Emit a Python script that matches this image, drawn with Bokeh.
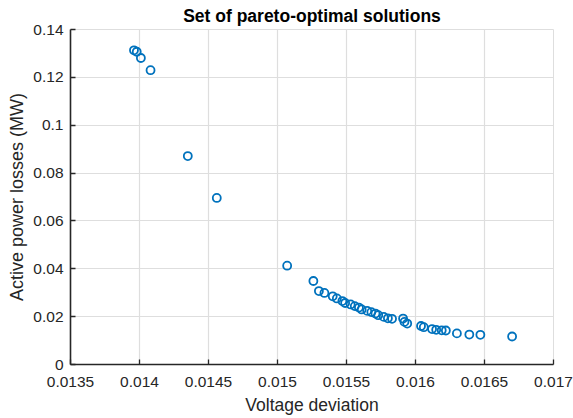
from bokeh.plotting import figure
from bokeh.models import FixedTicker, Range1d
from bokeh.embed import file_html
from bokeh.resources import INLINE

# Data
voltage_deviation = [
    0.01396, 0.01398, 0.01401, 0.01408, 0.01435, 0.01456, 0.01507,
    0.01526, 0.01530, 0.01534, 0.01540, 0.01543, 0.01547, 0.01549,
    0.01553, 0.01556, 0.01559, 0.01561, 0.01565, 0.01568, 0.01571,
    0.01573, 0.01577, 0.01580, 0.01583, 0.01591, 0.01592, 0.01594,
    0.01604, 0.01606, 0.01612, 0.01615, 0.01619, 0.01622, 0.01630,
    0.01639, 0.01647, 0.01670,
]
power_losses = [
    0.1313, 0.1307, 0.1281, 0.1230, 0.0871, 0.0696, 0.0413,
    0.0349, 0.0307, 0.0299, 0.0285, 0.0276, 0.0265, 0.0257,
    0.0251, 0.0244, 0.0238, 0.0230, 0.0224, 0.0219, 0.0213,
    0.0206, 0.0199, 0.0193, 0.0191, 0.0192, 0.0178, 0.0171,
    0.0161, 0.0156, 0.0148, 0.0145, 0.0143, 0.0142, 0.0130,
    0.0125, 0.0124, 0.0117,
]

x_ticks = [0.0135, 0.014, 0.0145, 0.015, 0.0155, 0.016, 0.0165, 0.017]
x_tick_labels = ["0.0135", "0.014", "0.0145", "0.015", "0.0155", "0.016", "0.0165", "0.017"]
y_ticks = [0, 0.02, 0.04, 0.06, 0.08, 0.1, 0.12, 0.14]
y_tick_labels = ["0", "0.02", "0.04", "0.06", "0.08", "0.1", "0.12", "0.14"]

title_text = "Set of pareto-optimal solutions"
x_label = "Voltage deviation"
y_label = "Active power losses (MW)"

FONT = "Liberation Sans"
AXIS_COLOR = "#262626"

p = figure(width=573, height=418, output_backend="svg", toolbar_location=None,
           x_range=Range1d(x_ticks[0], x_ticks[-1]),
           y_range=Range1d(y_ticks[0], y_ticks[-1]),
           title=title_text,
           min_border_left=70, min_border_right=20,
           min_border_top=29, min_border_bottom=54)

p.title.align = "center"
p.title.text_font = FONT
p.title.text_font_size = "17.5px"
p.title.text_font_style = "bold"
p.title.text_color = "#000000"
p.title.standoff = 7

p.outline_line_color = "#dedede"
p.background_fill_color = "white"
p.border_fill_color = "white"

for ax, ticks, labels, lab in ((p.xaxis[0], x_ticks, x_tick_labels, x_label),
                               (p.yaxis[0], y_ticks, y_tick_labels, y_label)):
    ax.ticker = FixedTicker(ticks=ticks)
    ax.major_label_overrides = {t: s for t, s in zip(ticks, labels)}
    ax.minor_tick_line_color = None
    ax.major_tick_in = 5
    ax.major_tick_out = 0
    ax.major_tick_line_color = AXIS_COLOR
    ax.major_tick_line_width = 1.3
    ax.axis_line_color = AXIS_COLOR
    ax.axis_line_width = 1.6
    ax.major_label_text_font = FONT
    ax.major_label_text_font_size = "15.5px"
    ax.major_label_text_color = AXIS_COLOR
    ax.axis_label = lab
    ax.axis_label_text_font = FONT
    ax.axis_label_text_font_size = "17.5px"
    ax.axis_label_text_font_style = "normal"
    ax.axis_label_text_color = AXIS_COLOR

p.yaxis.axis_label_text_font_size = "18px"
p.xaxis.major_label_standoff = 12
p.xaxis.axis_label_standoff = 5
p.yaxis.major_label_standoff = 7
p.yaxis.axis_label_standoff = 3

p.grid.grid_line_color = "#dedede"
p.grid.grid_line_width = 1.2

p.scatter(voltage_deviation, power_losses, marker="circle", size=8,
          line_color="#0072BD", line_width=1.8, fill_color=None)

open("out.html", "w").write(file_html(p, INLINE))
